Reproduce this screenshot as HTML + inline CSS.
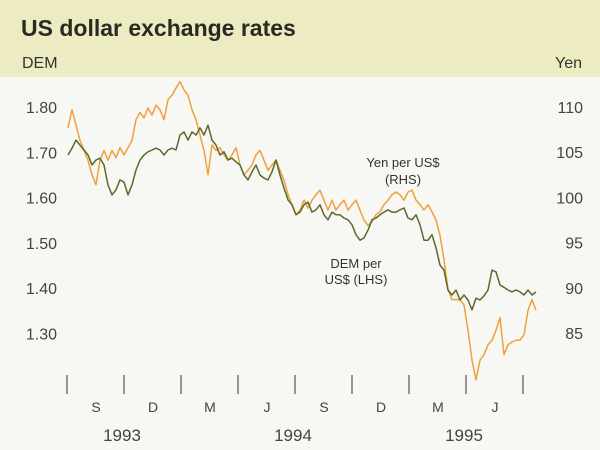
<!DOCTYPE html>
<html><head><meta charset="utf-8"><style>
body{margin:0;width:600px;height:450px;overflow:hidden;background:#f7f7f4;font-family:"Liberation Sans",sans-serif;}
svg{display:block}
</style></head><body>
<svg id="c" width="600" height="450" xmlns="http://www.w3.org/2000/svg">
<rect x="0" y="0" width="600" height="450" fill="#f7f7f4"/>
<rect x="0" y="0" width="600" height="77" fill="#ecebc2"/>
<text x="21" y="36" font-size="23" font-weight="bold" fill="#2a2a22">US dollar exchange rates</text>
<text x="22" y="68" font-size="16" fill="#333">DEM</text>
<text x="582" y="68" font-size="16" fill="#333" text-anchor="end">Yen</text>
<text x="403" y="167" font-size="13" fill="#333" text-anchor="middle">Yen per US$</text>
<text x="403" y="184" font-size="13" fill="#333" text-anchor="middle">(RHS)</text>
<text x="356" y="268" font-size="13" fill="#333" text-anchor="middle">DEM per</text>
<text x="356" y="284" font-size="13" fill="#333" text-anchor="middle">US$ (LHS)</text>
<g id="axes"></g>
<g id="series"></g>
</svg>
<script>
const demTicks=[1.80,1.70,1.60,1.50,1.40,1.30];
const yenTicks=[110,105,100,95,90,85];
const monthLabels=["S","D","M","J","S","D","M","J"];
const yearLabels=["1993","1994","1995"];
const yen=[107.7,109.7,108.0,106.3,105.2,104.1,102.5,101.4,104.1,105.2,104.1,105.2,104.4,105.5,104.7,105.5,106.3,108.6,109.4,108.8,109.9,109.1,110.2,109.7,108.6,110.8,111.3,112.1,112.8,111.9,111.3,109.7,108.6,106.9,105.2,102.5,105.8,105.2,105.5,104.7,104.1,104.7,105.5,103.6,102.5,103.0,103.6,104.7,105.2,104.1,103.0,103.6,104.1,103.0,101.9,100.3,99.2,98.1,98.6,99.7,98.8,99.7,100.3,100.8,99.7,98.6,99.7,98.6,99.2,99.7,98.6,99.2,99.7,98.6,97.5,96.9,97.3,98.1,98.4,99.2,99.7,100.3,100.6,100.3,99.7,100.6,100.8,99.7,99.2,98.6,99.2,98.4,97.5,95.8,93.1,89.8,88.7,88.7,88.7,88.1,85.3,82.0,79.8,82.0,82.6,83.7,84.2,85.3,86.7,82.6,83.7,84.0,84.2,84.2,84.8,87.5,88.7,87.5];
const dem=[1.694,1.709,1.727,1.716,1.705,1.694,1.672,1.683,1.687,1.672,1.628,1.606,1.617,1.639,1.634,1.606,1.628,1.661,1.683,1.694,1.701,1.705,1.709,1.705,1.694,1.705,1.709,1.705,1.738,1.745,1.727,1.745,1.738,1.754,1.738,1.760,1.727,1.716,1.694,1.701,1.683,1.687,1.679,1.672,1.650,1.639,1.657,1.672,1.650,1.643,1.639,1.657,1.683,1.650,1.621,1.595,1.584,1.562,1.568,1.584,1.590,1.568,1.573,1.584,1.562,1.551,1.568,1.562,1.562,1.555,1.551,1.540,1.518,1.506,1.511,1.528,1.551,1.555,1.562,1.568,1.573,1.568,1.568,1.573,1.577,1.555,1.551,1.562,1.540,1.506,1.506,1.518,1.489,1.451,1.440,1.396,1.385,1.396,1.374,1.385,1.374,1.352,1.378,1.374,1.383,1.396,1.440,1.436,1.407,1.402,1.396,1.392,1.396,1.392,1.385,1.396,1.385,1.392];

const NS="http://www.w3.org/2000/svg";
const xS=i=>68+i*(468/(dem.length-1));
const yDem=v=>107+(1.80-v)*453;
const yYen=v=>107+(110-v)*9.04;
const axes=document.getElementById('axes'),ser=document.getElementById('series');
function mk(tag,attrs,parent,txt){const e=document.createElementNS(NS,tag);for(const k in attrs)e.setAttribute(k,attrs[k]);if(txt!==undefined)e.textContent=txt;parent.appendChild(e);return e;}
demTicks.forEach(v=>{
  const t=mk('text',{x:57,y:yDem(v)+6,'font-size':16,fill:'#444','text-anchor':'end'},axes,v.toFixed(2));
  
  
});
yenTicks.forEach(v=>{
  const t=mk('text',{x:583,y:yYen(v)+6,'font-size':16,fill:'#444','text-anchor':'end'},axes,String(v));
  
  
});
for(let k=0;k<=monthLabels.length;k++){
  const x=67+k*57;
  const l=mk('line',{x1:x,y1:375,x2:x,y2:394,stroke:'#555','stroke-width':1.2},axes);
  
  
}
monthLabels.forEach((m,k)=>{
  const t=mk('text',{x:67+k*57+29,y:412,'font-size':14,fill:'#444','text-anchor':'middle'},axes,m);
  
  
});
[122,293,464].forEach((x,k)=>{
  const t=mk('text',{x:x,y:441,'font-size':17,fill:'#444','text-anchor':'middle'},axes,yearLabels[k]);
  
  
});
const py=yen.map((v,i)=>(i?'L':'M')+xS(i).toFixed(1)+','+yYen(v).toFixed(1)).join('');
const p1=mk('path',{d:py,fill:'none',stroke:'#f0a03c','stroke-width':1.5,'stroke-linejoin':'round'},ser);


const pd=dem.map((v,i)=>(i?'L':'M')+xS(i).toFixed(1)+','+yDem(v).toFixed(1)).join('');
const p2=mk('path',{d:pd,fill:'none',stroke:'#5a6a2c','stroke-width':1.5,'stroke-linejoin':'round'},ser);


</script>
</body></html>
